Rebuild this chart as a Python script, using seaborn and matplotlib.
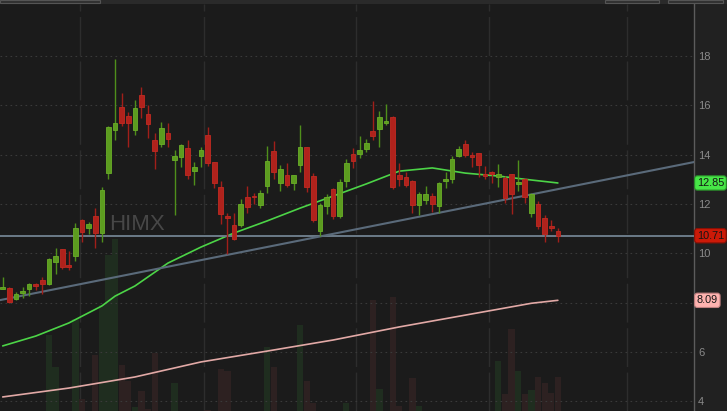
import matplotlib
matplotlib.use("Agg")
import matplotlib.pyplot as plt
import matplotlib.transforms as mtransforms
from matplotlib.patches import Rectangle
import numpy as np
import pandas as pd
import seaborn as sns

# daily candles, oldest first
ticker = "HIMX"
opens = [8.55, 8.59, 8.16, 8.39, 8.55, 8.76, 8.92, 8.76, 9.65, 10.16,
         9.53, 9.89, 11.35, 11.03, 11.51, 10.84, 13.24, 15.00, 15.95, 15.57,
         15.00, 16.42, 15.64, 14.59, 14.43, 14.89, 13.78, 13.89, 14.26, 13.35,
         13.95, 14.80, 13.69, 12.68, 11.51, 11.15, 11.15, 12.27, 12.32, 11.96,
         12.74, 14.16, 12.84, 13.16, 12.86, 13.58, 14.30, 13.14, 10.92, 11.92,
         12.59, 11.49, 12.95, 14.03, 14.03, 14.23, 14.96, 15.04, 15.27, 15.54,
         13.18, 13.11, 12.93, 11.95, 12.16, 12.34, 11.92, 12.93, 13.01, 13.95,
         14.42, 13.97, 14.05, 13.20, 13.30, 13.08, 13.07, 13.22, 12.82, 13.00,
         11.62, 12.00, 11.42, 11.11, 10.91]
highs = [9.03, 8.62, 8.41, 8.62, 8.81, 8.78, 9.03, 9.81, 10.22, 10.19,
         10.09, 11.22, 11.39, 11.27, 11.84, 12.70, 15.15, 17.88, 16.51, 15.73,
         16.22, 16.76, 16.01, 14.86, 15.34, 15.30, 14.19, 14.42, 14.59, 13.72,
         14.30, 15.11, 13.72, 12.95, 11.62, 11.62, 12.20, 12.74, 12.43, 12.57,
         14.35, 14.57, 13.58, 13.65, 13.18, 15.19, 14.32, 13.24, 12.03, 12.41,
         12.64, 13.00, 13.84, 14.26, 14.76, 14.64, 16.18, 15.77, 16.05, 15.57,
         13.65, 13.30, 12.97, 12.50, 12.74, 12.43, 12.88, 13.31, 13.95, 14.36,
         14.59, 14.09, 14.05, 13.54, 13.35, 13.62, 13.14, 13.22, 13.78, 13.04,
         12.43, 12.12, 11.55, 11.35, 11.01]
lows = [8.54, 7.97, 8.11, 8.18, 8.28, 8.51, 8.35, 8.72, 9.16, 9.35,
        9.32, 9.70, 10.47, 10.77, 10.22, 10.47, 13.00, 14.59, 15.16, 14.32,
        14.80, 15.47, 14.66, 13.42, 14.32, 14.32, 11.55, 13.51, 13.00, 12.77,
        13.51, 13.54, 12.64, 11.19, 9.97, 10.55, 11.05, 11.62, 11.99, 11.82,
        12.43, 13.00, 12.54, 12.68, 12.57, 13.28, 12.50, 11.28, 10.70, 11.59,
        11.38, 11.42, 12.68, 13.45, 13.85, 14.09, 14.59, 14.32, 15.20, 12.59,
        12.73, 12.68, 11.62, 11.55, 12.00, 11.69, 11.62, 12.64, 12.86, 13.89,
        13.92, 13.51, 13.08, 13.00, 12.86, 12.70, 12.05, 11.58, 12.54, 12.05,
        11.45, 10.99, 10.47, 10.92, 10.45]
closes = [8.64, 8.04, 8.35, 8.42, 8.76, 8.68, 8.76, 9.76, 9.89, 9.43,
          9.43, 11.03, 10.88, 11.19, 10.81, 12.57, 15.12, 15.30, 15.27, 15.27,
          15.88, 15.95, 15.24, 14.16, 15.07, 14.62, 13.95, 14.39, 13.18, 13.49,
          14.19, 13.65, 12.86, 11.59, 11.41, 10.58, 12.00, 11.89, 12.27, 12.43,
          13.74, 13.31, 13.41, 12.78, 13.16, 14.32, 12.68, 11.35, 11.95, 12.30,
          11.49, 12.88, 13.65, 13.74, 14.19, 14.46, 14.76, 15.51, 15.36, 12.70,
          13.00, 12.76, 11.96, 12.41, 12.41, 12.00, 12.84, 12.97, 13.82, 14.23,
          13.99, 13.89, 13.59, 13.15, 13.22, 13.22, 12.23, 12.41, 12.85, 12.30,
          12.41, 11.12, 10.76, 11.04, 10.71]
# volume in millions (pane bottom is cut off at 1.0)
volumes = [0.6, 0.7, 0.5, 0.6, 0.7, 0.5, 0.8, 2.90, 2.10, 0.8,
           0.7, 3.30, 1.30, 0.6, 2.40, 3.65, 4.90, 5.30, 2.15, 1.75,
           1.10, 1.50, 1.05, 2.45, 0.8, 0.7, 1.70, 0.7, 0.8, 0.6,
           0.7, 1.02, 0.8, 2.05, 2.00, 0.9, 0.8, 0.7, 0.6, 0.7,
           2.60, 2.10, 0.8, 0.7, 0.6, 3.15, 1.75, 1.20, 0.9, 0.7,
           0.8, 0.9, 1.20, 0.8, 0.7, 0.6, 3.78, 1.55, 0.9, 3.85,
           1.12, 0.9, 1.82, 1.12, 0.7, 0.8, 0.9, 0.6, 0.8, 0.7,
           0.8, 0.6, 0.9, 0.6, 0.7, 2.25, 1.42, 3.05, 2.00, 1.42,
           1.52, 1.85, 1.70, 1.45, 1.85]

ma50_idx = [0, 5, 10, 15, 17, 20, 25, 30, 35, 40, 45, 50, 55, 60, 65, 70, 75, 80, 84]
ma50_val = [6.24, 6.64, 7.17, 7.86, 8.26, 8.67, 9.60, 10.25, 10.82, 11.31, 11.83,
            12.32, 12.81, 13.33, 13.46, 13.25, 13.13, 12.97, 12.85]
ma200_idx = [0, 10, 20, 30, 40, 50, 60, 70, 80, 84]
ma200_val = [4.17, 4.53, 4.98, 5.59, 6.03, 6.48, 7.01, 7.49, 7.97, 8.09]

trend_pts = [(0, 8.12), (84, 12.60)]
last_price = 10.71
price_ticks = [4, 6, 8, 10, 12, 14, 16, 18]
tick_labels = ["4", "6", "", "10", "12", "14", "16", "18"]  # 8 sits under the 8.09 flag
month_breaks = [11.7, 30.45, 53.45, 73.6, 94.4]

BG = "#1b1b1b"
sns.set_theme(style="dark", rc={"axes.facecolor": BG, "figure.facecolor": "#212121"})
plt.rcParams["font.family"] = ["Liberation Sans", "DejaVu Sans"]

df = pd.DataFrame({"open": opens, "high": highs, "low": lows,
                   "close": closes, "volume": volumes})
df["idx"] = np.arange(len(df))
up = df["close"] >= df["open"]

fig = plt.figure(figsize=(7.27, 4.11), dpi=100)
rect = [0, 0, 694 / 727, 407 / 411]
ax_vol = fig.add_axes(rect)
ax = fig.add_axes(rect, sharex=ax_vol)
ax.patch.set_visible(False)

# volume pane behind the price pane
for b in month_breaks:
    ax_vol.axvline(b, color="#2d2d2d", lw=1, linestyle=(0, (28, 4)), zorder=0)
vcol = np.where(up, "#1f2d1f", "#2d2121")
ax_vol.bar(df["idx"], df["volume"], width=0.94, color=vcol, edgecolor="none", zorder=1)
ax_vol.set_ylim(1.0, 11.175)
ax_vol.set_yticks([])
ax_vol.grid(False)
for s in ax_vol.spines.values():
    s.set_visible(False)

# price pane
ax.text(0.157, 0.459, ticker, transform=ax.transAxes, fontsize=16,
        color="#474747", ha="left", va="center", zorder=1)

sns.lineplot(x=ma200_idx, y=ma200_val, ax=ax, color="#e2a9a6", lw=1.2, zorder=3)
sns.lineplot(x=ma50_idx, y=ma50_val, ax=ax, color="#4cd447", lw=1.2, zorder=3)
ax.axhline(last_price, color="#6c7b88", lw=1.4, zorder=3)
ax.axline(trend_pts[0], trend_pts[1], color="#5a6a7a", lw=1.5, zorder=3)

wick_col = np.where(up, "#4f8f1b", "#a11f1a")
ax.vlines(df["idx"], df["low"], df["high"], colors=wick_col, lw=1.0, zorder=4)
body_h = (df["close"] - df["open"]).abs().clip(lower=0.07)
body_b = df[["open", "close"]].min(axis=1)
ax.bar(df["idx"], body_h, bottom=body_b, width=0.7,
       color=np.where(up, "#5c9c1f", "#b0221c"),
       edgecolor=np.where(up, "#6aae28", "#c22a22"), linewidth=0.6, zorder=5)

ax.set_xlim(-0.41, 104.6)
ax.set_ylim(3.60, 20.11)
ax.set_xticks([])
ax.set_xlabel("")
ax.set_ylabel("")
ax.yaxis.tick_right()
ax.set_yticks(price_ticks)
ax.set_yticklabels(tick_labels)
ax.tick_params(axis="y", length=0, pad=3, labelsize=8, labelcolor="#8a8a8a")
ax.grid(axis="y", color="#3a3a3a", linestyle=(0, (1.5, 3)), lw=0.8)
ax.grid(axis="x", visible=False)
for name, s in ax.spines.items():
    s.set_visible(name == "right")
ax.spines["right"].set_color("#5c5c5c")
ax.spines["right"].set_linewidth(1.0)

# price flags on the right scale
trans = mtransforms.blended_transform_factory(ax.transAxes, ax.transData)
flags = [(ma50_val[-1], "#47e647", "#2a8a2a"),
         (last_price, "#cc1a08", "#8a1005"),
         (ma200_val[-1], "#ffb3b0", "#c08080")]
for val, fc, ec in flags:
    ax.text(1.004, val, f"{val:.2f}", transform=trans, fontsize=7.8, color="#151515",
            ha="left", va="center", clip_on=False, zorder=10,
            bbox=dict(boxstyle="round,pad=0.2,rounding_size=0.25", fc=fc, ec=ec, lw=0.8))

# toolbar strip at the top
fig.patches.append(Rectangle((0, 1 - 4 / 411), 1, 4 / 411, transform=fig.transFigure,
                             fc="#2a2a2a", ec="none", zorder=0))
for x0, w in [(0, 100), (605, 54), (668, 55)]:
    fig.patches.append(Rectangle((x0 / 727, 1 - 3 / 411), w / 727, 3 / 411,
                                 transform=fig.transFigure, fc="#303030",
                                 ec="#555555", lw=0.8, zorder=1))

fig.savefig("out.png", dpi=100)
